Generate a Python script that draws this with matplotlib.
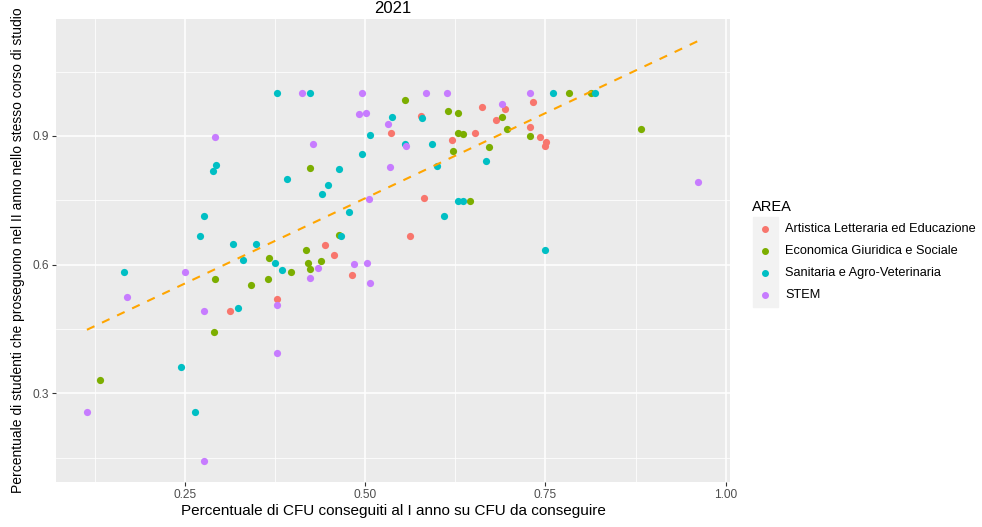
import matplotlib
matplotlib.use("Agg")
import matplotlib.pyplot as plt
import numpy as np
from matplotlib.ticker import MultipleLocator, FormatStrFormatter
from matplotlib.lines import Line2D
from matplotlib.patches import Rectangle

plt.rcParams['font.family'] = ['Liberation Sans', 'DejaVu Sans']

## data, one pair of lists per AREA
areas = ["Artistica Letteraria ed Educazione", "Economica Giuridica e Sociale",
         "Sanitaria e Agro-Veterinaria", "STEM"]
colors = ["#F8766D", "#7CAE00", "#00BFC4", "#C77CFF"]

art_x = [0.377, 0.313, 0.662, 0.694, 0.682, 0.578, 0.536, 0.652, 0.728, 0.621,
         0.581, 0.562, 0.444, 0.732, 0.743, 0.751, 0.749, 0.456, 0.482]
art_y = [0.520, 0.491, 0.967, 0.964, 0.937, 0.946, 0.908, 0.908, 0.921, 0.891,
         0.755, 0.666, 0.646, 0.979, 0.897, 0.886, 0.877, 0.623, 0.576]

eco_x = [0.367, 0.397, 0.291, 0.342, 0.365, 0.290, 0.132, 0.555, 0.615, 0.629,
         0.690, 0.629, 0.636, 0.696, 0.728, 0.622, 0.672, 0.423, 0.645, 0.463,
         0.418, 0.783, 0.813, 0.883, 0.421, 0.438, 0.423]
eco_y = [0.616, 0.583, 0.567, 0.552, 0.567, 0.442, 0.331, 0.984, 0.958, 0.954,
         0.944, 0.908, 0.905, 0.916, 0.901, 0.865, 0.874, 0.825, 0.748, 0.669,
         0.634, 1.000, 1.000, 0.917, 0.603, 0.608, 0.589]

san_x = [0.377, 0.293, 0.289, 0.391, 0.276, 0.271, 0.316, 0.349, 0.330, 0.375,
         0.385, 0.165, 0.324, 0.244, 0.264, 0.424, 0.537, 0.579, 0.506, 0.555,
         0.593, 0.495, 0.667, 0.464, 0.599, 0.448, 0.440, 0.629, 0.636, 0.478,
         0.609, 0.467, 0.761, 0.819, 0.749]
san_y = [1.000, 0.832, 0.818, 0.800, 0.714, 0.666, 0.648, 0.648, 0.610, 0.603,
         0.588, 0.583, 0.498, 0.362, 0.257, 1.000, 0.944, 0.942, 0.902, 0.881,
         0.881, 0.858, 0.841, 0.823, 0.831, 0.786, 0.765, 0.748, 0.748, 0.722,
         0.714, 0.666, 1.000, 1.000, 0.634]

stem_x = [0.291, 0.250, 0.170, 0.377, 0.277, 0.377, 0.114, 0.277, 0.412, 0.495,
          0.584, 0.613, 0.690, 0.492, 0.501, 0.532, 0.428, 0.556, 0.534, 0.505,
          0.728, 0.962, 0.435, 0.424, 0.484, 0.503, 0.506]
stem_y = [0.898, 0.583, 0.525, 0.506, 0.491, 0.394, 0.257, 0.142, 1.000, 1.000,
          1.000, 1.000, 0.975, 0.951, 0.954, 0.928, 0.881, 0.877, 0.828, 0.753,
          1.000, 0.793, 0.592, 0.568, 0.601, 0.603, 0.558]

xs = [art_x, eco_x, san_x, stem_x]
ys = [art_y, eco_y, san_y, stem_y]

W, H = 982, 527
fig = plt.figure(figsize=(W / 100, H / 100), dpi=100)
ax = fig.add_axes([56 / W, 1 - 482 / H, (730 - 56) / W, (482 - 19) / H])
ax.set_facecolor('#EBEBEB')

for i in range(len(areas)):
    ax.scatter(xs[i], ys[i], s=27, color=colors[i], linewidths=0, zorder=3)

## linear fit over all points, drawn across the x range of the data
all_x = np.concatenate([np.array(a) for a in xs])
all_y = np.concatenate([np.array(a) for a in ys])
slope, icpt = np.polyfit(all_x, all_y, 1)
fx = np.array([all_x.min(), all_x.max()])
ax.plot(fx, icpt + slope * fx, color='orange', lw=1.5, dashes=(4, 4), zorder=4)

ax.set_xlim(0.0711, 1.0059)
ax.set_ylim(0.0935, 1.1727)
ax.xaxis.set_major_locator(MultipleLocator(0.25))
ax.xaxis.set_minor_locator(MultipleLocator(0.125))
ax.yaxis.set_major_locator(MultipleLocator(0.3))
ax.yaxis.set_minor_locator(MultipleLocator(0.15))
ax.xaxis.set_major_formatter(FormatStrFormatter('%.2f'))
ax.yaxis.set_major_formatter(FormatStrFormatter('%.1f'))
ax.grid(which='major', color='white', lw=1.1, zorder=0)
ax.grid(which='minor', color='white', lw=0.55, zorder=0)
ax.set_axisbelow(True)
for sp in ax.spines.values():
    sp.set_visible(False)
ax.tick_params(which='major', length=2.75, width=0.8, color='#333333',
               labelcolor='#4D4D4D', labelsize=8.6, pad=2.5)
ax.tick_params(which='minor', length=0)

ax.set_xlabel("Percentuale di CFU conseguiti al I anno su CFU da conseguire", fontsize=11, labelpad=2)
ax.set_ylabel("Percentuale di studenti che proseguono nel II anno nello stesso corso di studio",
              fontsize=10, labelpad=5)
ax.set_title("2021", fontsize=12, pad=4.5)

## legend, ggplot style (grey key column, title on top)
fig.patches.append(Rectangle((753 / W, 1 - 307 / H), 25 / W, 90 / H,
                             transform=fig.transFigure, color='#F2F2F2', zorder=0))
fig.text(752 / W, 1 - 207 / H, "AREA", fontsize=10.5, ha='left', va='center')
for i in range(len(areas)):
    ky = 1 - (229 + 22 * i) / H
    fig.add_artist(Line2D([765 / W], [ky], transform=fig.transFigure, marker='o',
                          markersize=4, color=colors[i], lw=0))
    fig.text(785 / W, ky, areas[i], fontsize=9.2, ha='left', va='center')

plt.savefig("out.png", dpi=100)
